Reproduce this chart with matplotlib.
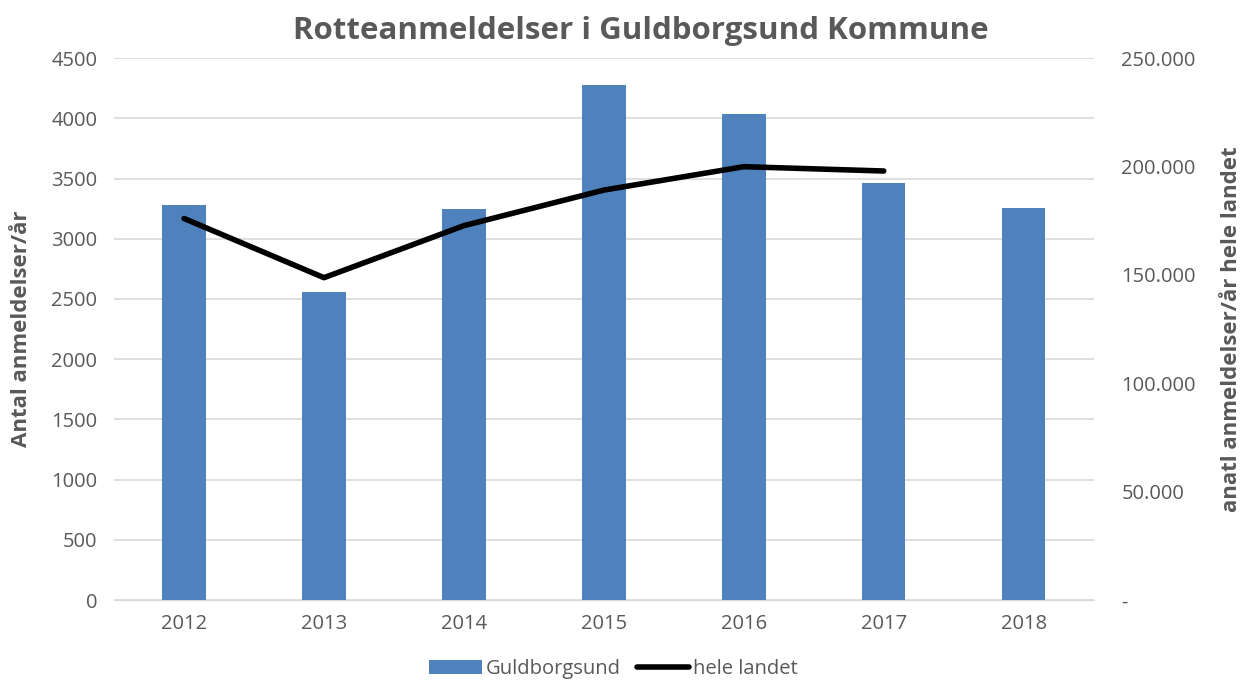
import matplotlib
matplotlib.use("Agg")
from matplotlib import pyplot as plt
from matplotlib.ticker import FuncFormatter

years = ["2012", "2013", "2014", "2015", "2016", "2017", "2018"]
guldborgsund = [3280, 2555, 3250, 4275, 4035, 3462, 3258]
landet_years = ["2012", "2013", "2014", "2015", "2016", "2017"]
hele_landet = [176000, 148700, 172700, 189100, 199900, 197900]

grey = "#595959"
plt.rcParams["font.family"] = ["Open Sans", "DejaVu Sans"]

fig = plt.figure(figsize=(12.4, 6.8), dpi=100)
ax = fig.add_axes([0.092, 0.1176, 0.79, 0.797])
ax2 = ax.twinx()

x = list(range(len(years)))
ax.bar(x, guldborgsund, width=0.31, color="#4F81BD", label="Guldborgsund", zorder=3)
ax2.plot(list(range(len(landet_years))), hele_landet, color="black", lw=4,
         solid_capstyle="round", label="hele landet", zorder=4)

ax.set_xlim(-0.5, len(years) - 0.5)
ax.set_ylim(0, 4500)
ax.set_yticks(range(0, 4501, 500))
ax2.set_ylim(0, 250000)
ax2.set_yticks(range(0, 250001, 50000))
ax2.yaxis.set_major_formatter(FuncFormatter(
    lambda v, p: "-" if v == 0 else f"{int(v):,}".replace(",", ".")))

ax.set_xticks(x)
ax.set_xticklabels(years)
ax.grid(axis="y", color="#D9D9D9", lw=1.2, zorder=0)
ax.set_axisbelow(True)
for a in (ax, ax2):
    for s in a.spines.values():
        s.set_visible(False)
    a.tick_params(length=0, labelsize=14.5, colors=grey)
ax.spines["bottom"].set_visible(True)
ax.spines["bottom"].set_color("#D9D9D9")
ax.tick_params(axis="x", pad=10)
ax.tick_params(axis="y", pad=12)
ax2.tick_params(axis="y", pad=20)

ax.set_ylabel("Antal anmeldelser/år", fontsize=16, fontweight="bold", color=grey, labelpad=14)
ax2.set_ylabel("anatl anmeldelser/år hele landet", fontsize=16, fontweight="bold",
               color=grey, labelpad=18)
fig.suptitle("Rotteanmeldelser i Guldborgsund Kommune", fontsize=22.5, fontweight="bold",
             color=grey, x=0.517, y=0.977)

h1, l1 = ax.get_legend_handles_labels()
h2, l2 = ax2.get_legend_handles_labels()
fig.legend(h1 + h2, l1 + l2, loc="lower center", bbox_to_anchor=(0.495, -0.025), ncol=2,
           frameon=False, fontsize=14.5, labelcolor=grey, handlelength=2.6,
           handletextpad=0.2, columnspacing=0.8)

fig.savefig("out.png", dpi=100)
